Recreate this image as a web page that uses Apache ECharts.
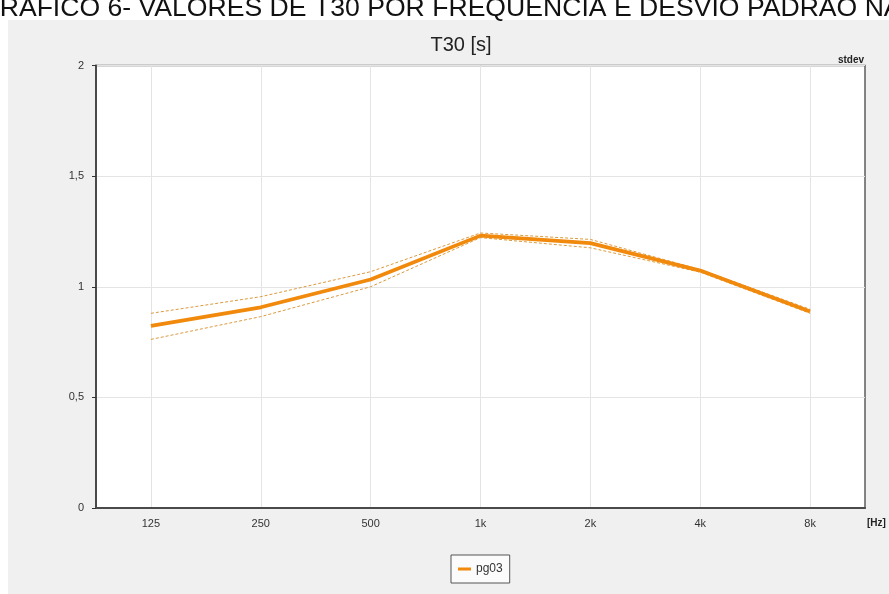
<!DOCTYPE html>
<html>
<head>
<meta charset="utf-8">
<script src="https://cdn.jsdelivr.net/npm/echarts@6/dist/echarts.min.js"></script>
<style>
  html, body { margin: 0; padding: 0; background: #ffffff; }
  #chart { width: 889px; height: 594px; }
</style>
</head>
<body>
<div id="chart"></div>
<script>
// Octave bands and reverberation time T30 (s) for measurement pg03
const bands = ['125', '250', '500', '1k', '2k', '4k', '8k'];
const t30Mean = [0.823, 0.907, 1.033, 1.231, 1.197, 1.073, 0.888];
// mean ± standard deviation
const t30Upper = [0.880, 0.955, 1.068, 1.243, 1.214, 1.078, 0.898];
const t30Lower = [0.762, 0.865, 1.000, 1.222, 1.176, 1.066, 0.880];

const FONT = '"Liberation Sans", Arial, sans-serif';
const ORANGE = '#f0890c';
const BAND = '#dc9a3e';

const chart = echarts.init(document.getElementById('chart'), null, { renderer: 'canvas' });

const bandLine = (data) => ({
  type: 'line',
  data: data,
  symbol: 'none',
  silent: true,
  z: 2,
  lineStyle: { color: BAND, width: 1, type: [3, 2] }
});

chart.setOption({
  animation: false,
  backgroundColor: 'transparent',
  textStyle: { fontFamily: FONT },
  title: {
    text: 'T30 [s]',
    left: 456,
    top: 30,
    textAlign: 'center',
    textStyle: { fontFamily: FONT, fontSize: 20, fontWeight: 'normal', color: '#222' }
  },
  graphic: [
    {
      type: 'rect',
      z: -100,
      shape: { x: 8, y: 20, width: 881, height: 574 },
      style: { fill: '#f0f0f0' }
    },
    {
      type: 'text',
      x: -21,
      y: 22,
      style: {
        text: 'GRÁFICO 6- VALORES DE T30 POR FREQUÊNCIA E DESVIO PADRÃO NA SALA',
        font: '26.6px ' + FONT,
        fill: '#111',
        align: 'left',
        verticalAlign: 'bottom'
      }
    },
    {
      type: 'text',
      x: 864,
      y: 60,
      style: {
        text: 'stdev',
        font: 'bold 10px ' + FONT,
        fill: '#222',
        align: 'right',
        verticalAlign: 'middle'
      }
    },
    {
      type: 'text',
      x: 867,
      y: 523,
      style: {
        text: '[Hz]',
        font: 'bold 10px ' + FONT,
        fill: '#222',
        align: 'left',
        verticalAlign: 'middle'
      }
    }
  ],
  legend: {
    data: ['pg03'],
    left: 451,
    top: 555,
    orient: 'horizontal',
    backgroundColor: '#fbfbfb',
    borderColor: '#555',
    borderWidth: 1,
    padding: [8, 7, 8, 7],
    icon: 'rect',
    itemWidth: 13,
    itemHeight: 3,
    textStyle: { fontFamily: FONT, fontSize: 12, color: '#333' }
  },
  grid: {
    left: 96,
    top: 65.5,
    right: 24,
    bottom: 86,
    show: true,
    backgroundColor: '#ffffff',
    borderColor: '#5c5c5c',
    borderWidth: 1.5
  },
  xAxis: {
    type: 'category',
    data: bands,
    boundaryGap: true,
    axisLine: { lineStyle: { color: '#4a4a4a', width: 2 } },
    axisTick: { alignWithLabel: true, length: 5, lineStyle: { color: '#333', width: 1.5 } },
    axisLabel: { color: '#333', fontSize: 11, margin: 10, fontFamily: FONT },
    splitLine: { show: true, alignWithLabel: true, lineStyle: { color: '#e4e4e4', width: 1 } }
  },
  yAxis: {
    type: 'value',
    min: 0,
    max: 2,
    interval: 0.5,
    axisLine: { show: true, lineStyle: { color: '#4a4a4a', width: 2 } },
    axisTick: { show: true, length: 4, lineStyle: { color: '#333', width: 1 } },
    axisLabel: {
      color: '#333',
      fontSize: 11,
      margin: 12,
      fontFamily: FONT,
      formatter: (v) => String(v).replace('.', ',')
    },
    splitLine: { show: true, lineStyle: { color: '#e4e4e4', width: 1 } }
  },
  series: [
    bandLine(t30Upper),
    bandLine(t30Lower),
    {
      name: 'pg03',
      type: 'line',
      data: t30Mean,
      symbol: 'none',
      z: 3,
      itemStyle: { color: ORANGE },
      lineStyle: { color: ORANGE, width: 3.7 }
    }
  ]
});
</script>
</body>
</html>
